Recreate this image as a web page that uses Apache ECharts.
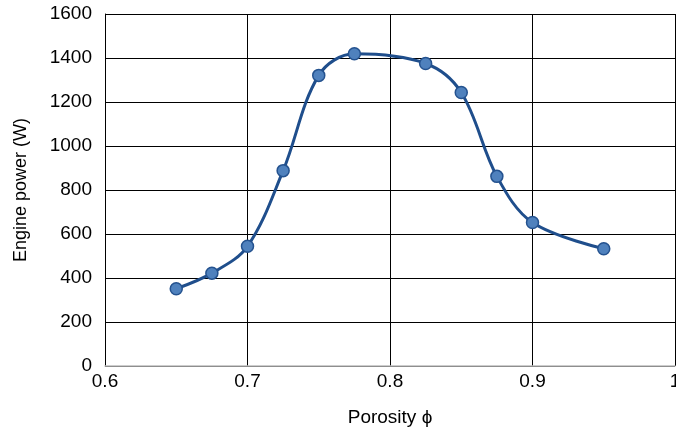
<!DOCTYPE html>
<html><head><meta charset="utf-8">
<script src="https://cdn.jsdelivr.net/npm/echarts@6/dist/echarts.min.js"></script>
<style>html,body{margin:0;padding:0;background:#fff}#c{width:676px;height:435px}</style>
</head><body><div id="c"></div>
<script>
const porosity = [0.65, 0.675, 0.7, 0.725, 0.75, 0.775, 0.825, 0.85, 0.875, 0.9, 0.95];
const power = [351, 422, 544, 888, 1321, 1419, 1375, 1243, 862, 652, 533];
const xTicks = [0.6, 0.7, 0.8, 0.9, 1];
const yTicks = [0, 200, 400, 600, 800, 1000, 1200, 1400, 1600];

const font = '"Liberation Sans", Arial, Helvetica, sans-serif';
const chart = echarts.init(document.getElementById('c'));
chart.setOption({
  animation: false,
  backgroundColor: '#fff',
  grid: {left: 105, right: 1, top: 14, bottom: 69, containLabel: false, outerBoundsMode: 'none'},
  xAxis: {
    type: 'value', min: xTicks[0], max: xTicks[xTicks.length-1], interval: 0.1,
    name: 'Porosity ϕ', nameLocation: 'middle', nameGap: 42,
    nameTextStyle: {fontFamily: font, fontSize: 19, color: '#000'},
    axisLine: {show: true, lineStyle: {color: '#bdbdbd', width: 1.5}},
    axisTick: {show: false},
    axisLabel: {fontFamily: font, fontSize: 19, color: '#000', margin: 6,
      formatter: v => String(Math.round(v*10)/10)},
    splitLine: {show: true, lineStyle: {color: '#000', width: 1}}
  },
  yAxis: {
    type: 'value', min: yTicks[0], max: yTicks[yTicks.length-1], interval: 200,
    name: 'Engine power (W)', nameLocation: 'middle', nameGap: 75,
    nameTextStyle: {fontFamily: font, fontSize: 18, color: '#000'},
    axisLine: {show: true, lineStyle: {color: '#000', width: 1}},
    axisTick: {show: false},
    axisLabel: {fontFamily: font, fontSize: 19, color: '#000', margin: 13,
      formatter: v => String(Math.round(v))},
    splitLine: {show: true, lineStyle: {color: '#000', width: 1}}
  },
  series: [{
    type: 'line',
    data: porosity.map((x, i) => [x, power[i]]),
    smooth: 0.35,
    symbol: 'circle', symbolSize: 12,
    lineStyle: {color: '#1f4e8c', width: 3},
    itemStyle: {color: '#4f81bd', borderColor: '#24528f', borderWidth: 1.5}
  }]
});
</script></body></html>
